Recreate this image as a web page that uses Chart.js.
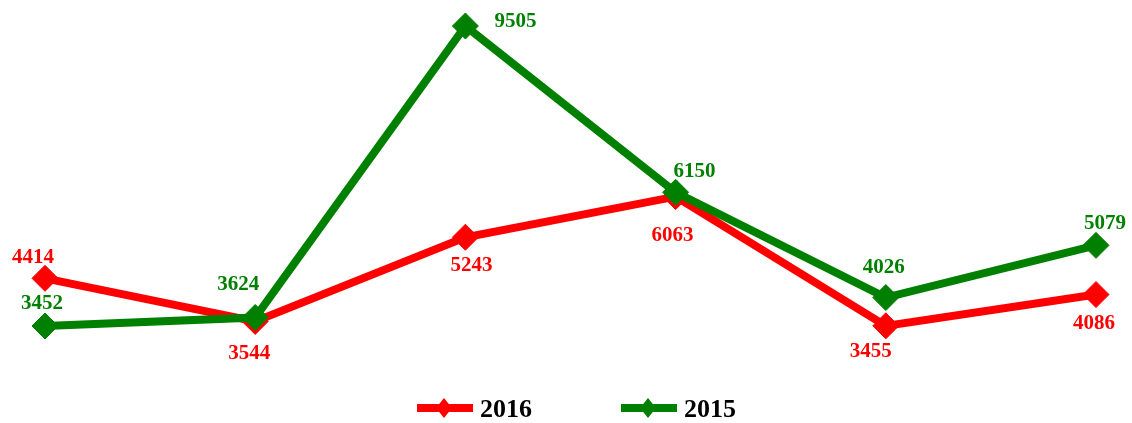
<!DOCTYPE html>
<html>
<head>
<meta charset="utf-8">
<script src="https://cdn.jsdelivr.net/npm/chart.js@4/dist/chart.umd.min.js"></script>
<style>
  html, body { margin: 0; padding: 0; background: #fff; }
  #wrap { width: 1132px; height: 423px; position: relative; }
</style>
</head>
<body>
<div id="wrap"><canvas id="chart"></canvas></div>
<script>
// Datos
const categories = ['1', '2', '3', '4', '5', '6'];
const seriesNames = ['2016', '2015'];
const values2016 = [4414, 3544, 5243, 6063, 3455, 4086];
const values2015 = [3452, 3624, 9505, 6150, 4026, 5079];
const seriesColors = ['#ff0000', '#008000'];

// Posición de las etiquetas respecto al punto (dx, dy)
const labelOffsets = [
    [[-12, -22], [-6, 31], [6, 27], [-3, 37], [-15, 24], [-2, 27]],
    [[-3, -24], [-17, -34], [50, -6], [19, -22], [-2, -32], [9, -23]]
];

// Etiquetas de valores
const valueLabels = {
    id: 'valueLabels',
    afterDatasetsDraw(chart) {
        const ctx = chart.ctx;
        ctx.save();
        ctx.font = 'bold 21px "Liberation Serif", "Times New Roman", serif';
        ctx.textAlign = 'center';
        ctx.textBaseline = 'alphabetic';
        chart.data.datasets.forEach((ds, i) => {
            const meta = chart.getDatasetMeta(i);
            ctx.fillStyle = ds.borderColor;
            meta.data.forEach((pt, j) => {
                const off = labelOffsets[i][j];
                ctx.fillText(String(ds.data[j]), pt.x + off[0], pt.y + off[1] + 7);
            });
        });
        ctx.restore();
    }
};

// Leyenda inferior (línea + rombo)
const bottomLegend = {
    id: 'bottomLegend',
    afterDraw(chart) {
        const ctx = chart.ctx;
        const starts = [417, 621];
        const y = 408;
        ctx.save();
        seriesNames.forEach((name, i) => {
            const x0 = starts[i];
            ctx.strokeStyle = seriesColors[i];
            ctx.fillStyle = seriesColors[i];
            ctx.lineWidth = 8;
            ctx.beginPath();
            ctx.moveTo(x0, y);
            ctx.lineTo(x0 + 56, y);
            ctx.stroke();
            const cx = x0 + 27;
            ctx.beginPath();
            ctx.moveTo(cx, y - 10);
            ctx.lineTo(cx + 8, y);
            ctx.lineTo(cx, y + 10);
            ctx.lineTo(cx - 8, y);
            ctx.closePath();
            ctx.fill();
            ctx.fillStyle = '#000';
            ctx.font = 'bold 26px "Liberation Serif", "Times New Roman", serif';
            ctx.textAlign = 'left';
            ctx.textBaseline = 'alphabetic';
            ctx.fillText(name, x0 + 63, y + 9);
        });
        ctx.restore();
    }
};

const ctx = document.getElementById('chart').getContext('2d');
new Chart(ctx, {
    type: 'line',
    data: {
        labels: categories,
        datasets: [
            {
                label: seriesNames[0],
                data: values2016,
                borderColor: seriesColors[0],
                backgroundColor: seriesColors[0],
                pointBackgroundColor: seriesColors[0],
                order: 2
            },
            {
                label: seriesNames[1],
                data: values2015,
                borderColor: seriesColors[1],
                backgroundColor: seriesColors[1],
                pointBackgroundColor: seriesColors[1],
                order: 1
            }
        ]
    },
    options: {
        responsive: true,
        maintainAspectRatio: false,
        animation: false,
        layout: { autoPadding: false, padding: { left: 45, right: 36, top: 1.5, bottom: 74.6 } },
        elements: {
            line: { borderWidth: 8, tension: 0, fill: false },
            point: { pointStyle: 'rectRot', radius: 13, borderWidth: 1, hoverRadius: 13 }
        },
        clip: false,
        scales: {
            x: { display: false, offset: false },
            y: { display: false, min: 3000, max: 10000 }
        },
        plugins: {
            legend: { display: false },
            tooltip: { enabled: false }
        }
    },
    plugins: [valueLabels, bottomLegend]
});
</script>
</body>
</html>
